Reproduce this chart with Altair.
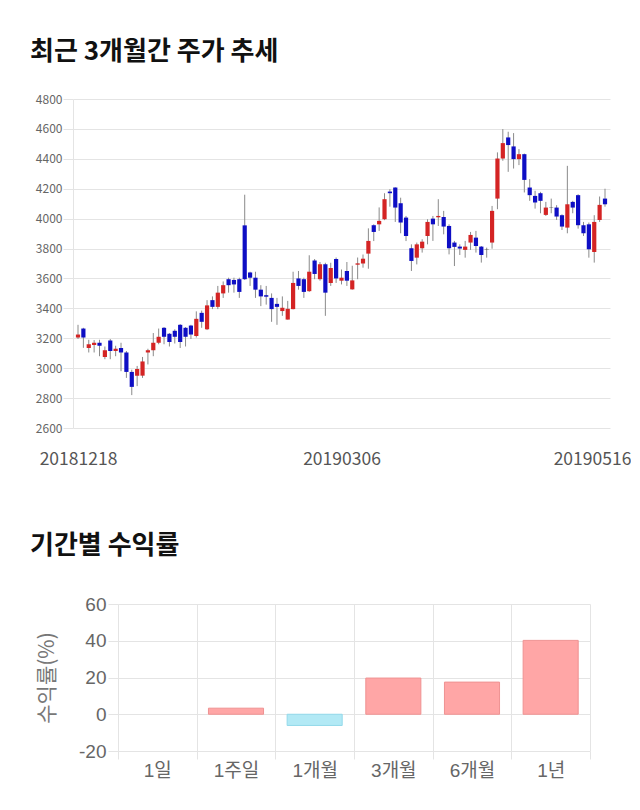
import altair as alt
import pandas as pd

# ---------------- data ----------------
opens = [3205, 3265, 3135, 3155, 3170, 3075, 3185, 3115, 3135, 3105,
         2975, 2950, 2950, 3105, 3120, 3170, 3270, 3230, 3250, 3290,
         3270, 3285, 3215, 3370, 3260, 3455, 3410, 3500, 3595, 3590,
         3595, 3955, 3640, 3605, 3525, 3488, 3470, 3430, 3382, 3325,
         3395, 3600, 3595, 3515, 3720, 3595, 3695, 3570, 3730, 3585,
         3650, 3527, 3692, 3700, 3766, 3956, 3962, 3996, 4181, 4208,
         4103, 4007, 3802, 3739, 3802, 3884, 4000, 4009, 4011, 3951,
         3840, 3813, 3791, 3840, 3873, 3813, 3792, 3840, 4134, 4402,
         4543, 4483, 4398, 4431, 4208, 4152, 4170, 4025, 4073, 4074,
         4023, 3940, 4112, 4157, 3956, 3962, 3777, 3991, 4134]
highs = [3290, 3270, 3190, 3188, 3190, 3145, 3195, 3150, 3170, 3115,
         2990, 3015, 3075, 3130, 3235, 3265, 3275, 3235, 3260, 3295,
         3275, 3290, 3380, 3385, 3455, 3480, 3550, 3580, 3605, 3605,
         3605, 4160, 3645, 3645, 3555, 3550, 3500, 3470, 3480, 3450,
         3645, 3650, 3605, 3755, 3730, 3710, 3705, 3705, 3740, 3660,
         3710, 3685, 3740, 3760, 3935, 3962, 4075, 4170, 4197, 4210,
         4140, 4018, 3828, 3840, 3862, 3996, 4018, 4130, 4052, 3962,
         3851, 3828, 3851, 3911, 3918, 3817, 3806, 4085, 4443, 4599,
         4581, 4572, 4465, 4435, 4264, 4186, 4179, 4112, 4134, 4090,
         4029, 4353, 4119, 4163, 3978, 3974, 4023, 4148, 4200]
lows = [3195, 3136, 3105, 3105, 3080, 3060, 3060, 3080, 2980, 2935,
        2820, 2880, 2935, 3025, 3080, 3160, 3160, 3145, 3165, 3135,
        3145, 3195, 3205, 3270, 3255, 3395, 3395, 3470, 3505, 3505,
        3470, 3590, 3550, 3470, 3415, 3425, 3310, 3290, 3350, 3325,
        3393, 3525, 3470, 3510, 3595, 3585, 3350, 3550, 3570, 3560,
        3550, 3525, 3595, 3672, 3665, 3850, 3918, 3990, 4080, 3978,
        3902, 3850, 3650, 3694, 3773, 3828, 3851, 3951, 3895, 3761,
        3683, 3757, 3739, 3791, 3773, 3706, 3739, 3799, 4063, 4387,
        4313, 4335, 4358, 4175, 4119, 4067, 4036, 4018, 4036, 3991,
        3924, 3902, 4036, 3933, 3884, 3739, 3706, 3978, 4080]
closes = [3225, 3205, 3160, 3170, 3150, 3120, 3115, 3130, 3105, 2975,
          2875, 2995, 3045, 3120, 3170, 3210, 3210, 3175, 3210, 3175,
          3210, 3225, 3330, 3310, 3420, 3410, 3505, 3555, 3555, 3560,
          3510, 3595, 3605, 3525, 3480, 3478, 3395, 3410, 3404, 3397,
          3570, 3550, 3510, 3645, 3630, 3695, 3505, 3670, 3600, 3605,
          3585, 3587, 3701, 3732, 3851, 3911, 3985, 4130, 4170, 4074,
          3974, 3884, 3717, 3828, 3846, 3978, 3962, 4018, 3947, 3802,
          3811, 3800, 3813, 3891, 3817, 3757, 3794, 4052, 4402, 4505,
          4492, 4398, 4431, 4259, 4157, 4108, 4119, 4074, 4075, 4014,
          3947, 4096, 4074, 3956, 3902, 3795, 3978, 4092, 4096]

closed_days = ["2018-12-25", "2018-12-31", "2019-01-01", "2019-02-04",
               "2019-02-05", "2019-02-06", "2019-03-01", "2019-05-01",
               "2019-05-06"]
dates = [d.strftime("%Y%m%d") for d in pd.bdate_range("2018-12-18", "2019-05-16")
         if d.strftime("%Y-%m-%d") not in closed_days]

y_ticks = [2600, 2800, 3000, 3200, 3400, 3600, 3800, 4000, 4200, 4400, 4600, 4800]
label_idx = [0, 49, 98]

periods = ["1일", "1주일", "1개월", "3개월", "6개월", "1년"]
returns = [0.0, 3.3, -6.1, 19.7, 17.5, 40.2]
ret_ticks = [-20, 0, 20, 40, 60]

# ---------------- tables ----------------
def direction(o, c):
    if abs(c - o) <= 2:
        return "flat"
    return "up" if c > o else "down"

candles = pd.DataFrame({
    "i": list(range(len(opens))),
    "date": dates[:len(opens)],
    "open": opens, "high": highs, "low": lows, "close": closes,
})
candles["dir"] = [direction(o, c) for o, c in zip(opens, closes)]

rets = pd.DataFrame({"period": periods, "ret": returns})
rets["sign"] = ["neg" if r < 0 else ("zero" if r == 0 else "pos") for r in returns]

KFONT = "Noto Sans CJK KR"
GRID = "#e4e4e4"

label_expr = " : ".join(
    f"datum.value == {k} ? '{dates[k]}'" for k in label_idx) + " : ''"

x_candle = alt.X(
    "i:Q",
    scale=alt.Scale(domain=[0, len(opens) - 1], nice=False, zero=False),
    axis=alt.Axis(values=label_idx, labelExpr=label_expr, grid=False,
                  domain=False, ticks=False, title=None,
                  labelFont=KFONT, labelFontSize=17.5, labelColor="#555555",
                  labelPadding=22,
                  labelOffset={"condition": [
                      {"test": f"datum.value == {label_idx[0]}", "value": 0},
                      {"test": f"datum.value == {label_idx[-1]}", "value": -13}],
                      "value": 0}),
)
y_scale = alt.Scale(domain=[2600, 4800], nice=False, zero=False)
y_axis = alt.Axis(values=y_ticks, format="d", title=None, grid=True,
                  gridColor=GRID, domain=True, domainColor=GRID, ticks=True,
                  tickSize=10, tickColor=GRID, labelPadding=1, labelFont=KFONT,
                  labelFontSize=12, labelColor="#666666")

base = alt.Chart(candles).encode(x=x_candle)

wicks = base.mark_rule(color="#8a8a8a", strokeWidth=1, clip=True).encode(
    y=alt.Y("low:Q", scale=y_scale, axis=y_axis),
    y2="high:Q",
)
bodies = base.mark_bar(width=4.2, clip=True).encode(
    y=alt.Y("open:Q", scale=y_scale, axis=y_axis),
    y2="close:Q",
    color=alt.Color("dir:N",
                    scale=alt.Scale(domain=["up", "down", "flat"],
                                    range=["#d42424", "#0e0ec4", "#222222"]),
                    legend=None),
)

top = alt.layer(wicks, bodies).properties(
    width=537, height=329,
    title=alt.TitleParams("최근 3개월간 주가 추세", anchor="start", frame="group",
                          dx=-43, offset=28, font=KFONT, fontSize=26,
                          fontWeight="bold", color="#111111"),
)

bars = alt.Chart(rets).mark_bar(strokeWidth=1, width={"band": 0.7}).encode(
    x=alt.X("period:N", sort=periods,
            scale=alt.Scale(paddingInner=0, paddingOuter=0),
            axis=alt.Axis(title=None, labelAngle=0, grid=True, gridColor=GRID,
                          tickBand="extent", domain=False, ticks=True,
                          tickColor=GRID, tickSize=8, labelPadding=2,
                          labelFont=f"Liberation Sans, {KFONT}", labelFontSize=19,
                          labelColor="#666666")),
    y=alt.Y("ret:Q", scale=alt.Scale(domain=[-20, 60], nice=False),
            axis=alt.Axis(values=ret_ticks, title="수익률(%)", grid=True,
                          labelExpr="replace(datum.label, '\u2212', '-')",
                          gridColor=GRID, domain=True, domainColor=GRID,
                          tickSize=10, tickColor=GRID, labelPadding=2,
                          labelFont="Liberation Sans", labelFontSize=19,
                          labelColor="#666666", titleFont=KFONT,
                          titleFontSize=21, titleFontWeight="normal",
                          titleColor="#777777", titlePadding=21,
                          minExtent=40, maxExtent=40)),
    color=alt.Color("sign:N", scale=alt.Scale(domain=["pos", "neg", "zero"],
                                              range=["#ffa6a6", "#b2e9f5", "#ffffff00"]),
                    legend=None),
    stroke=alt.Stroke("sign:N", scale=alt.Scale(domain=["pos", "neg", "zero"],
                                                range=["#ef9292", "#93d9ea", "#ffffff00"]),
                      legend=None),
).properties(
    width=472, height=147,
    title=alt.TitleParams("기간별 수익률", anchor="start", frame="group",
                          dx=-88, offset=36, font=KFONT, fontSize=26,
                          fontWeight="bold", color="#111111"),
)

spacer_df = pd.DataFrame({"s": [0]})


def spacer():
    return alt.Chart(spacer_df).mark_text(text="", opacity=0).encode(
        x=alt.value(0), y=alt.value(0)).properties(width=1, height=1)


chart = alt.concat(spacer(), top, spacer(), bars, columns=2,
                   spacing={"row": 65, "column": 0}, align="none").resolve_scale(
    color="independent", stroke="independent"
).properties(
    padding={"left": 29, "top": 39, "right": 0, "bottom": 0},
    background="white",
).configure_view(stroke=None)

chart.save("out.html", embed_options={"renderer": "svg", "actions": False})
